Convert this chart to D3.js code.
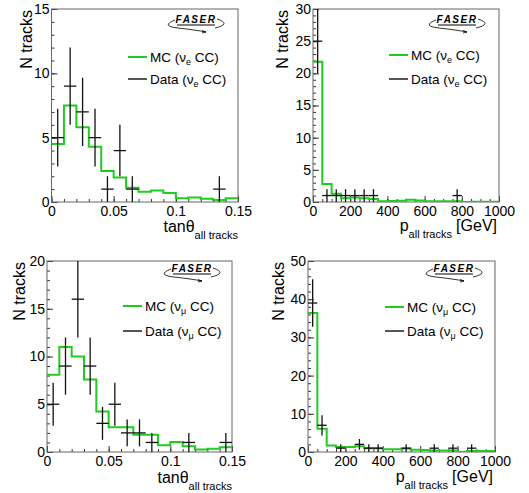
<!DOCTYPE html>
<html>
<head>
<meta charset="utf-8">
<script src="https://cdn.jsdelivr.net/npm/d3@7"></script>
<style>
  body { margin: 0; background: #fff; }
  text { font-family: "Liberation Sans", Arial, sans-serif; }
</style>
</head>
<body>
<div id="chart-area"></div>
<script>
// bin lower edges
var tanBins = [0, 0.01, 0.02, 0.03, 0.04, 0.05, 0.06, 0.07, 0.08, 0.09, 0.10, 0.11, 0.12, 0.13, 0.14];
var pBins = [0, 50, 100, 150, 200, 250, 300, 350, 400, 450, 500, 550, 600, 650, 700, 750, 800, 850, 900, 950];

// nu_e CC, tan theta
var mcTanE   = [4.5, 7.5, 5.8, 4.3, 2.4, 1.9, 1.1, 0.8, 0.9, 0.7, 0.3, 0.35, 0.25, 0.15, 0.3];
var dataTanE = [5, 9, 7, 5, 1, 4, 1, 0, 0, 0, 0, 0, 0, 1, 0];
var errTanE  = [2.24, 3, 2.65, 2.24, 1, 2, 1, 0, 0, 0, 0, 0, 0, 1, 0];

// nu_e CC, momentum
var mcPE   = [21.8, 2.8, 1.3, 0.6, 0.7, 0.6, 0.45, 0.1, 0.15, 0.2, 0.35, 0.25, 0.1, 0.1, 0.1, 0.1, 0, 0.05, 0.05, 0.05];
var dataPE = [25, 1, 1, 1, 1, 1, 1, 0, 0, 0, 0, 0, 0, 0, 0, 1, 0, 0, 0, 0];
var errPE  = [5, 1, 1, 1, 1, 1, 1, 0, 0, 0, 0, 0, 0, 0, 0, 1, 0, 0, 0, 0];

// nu_mu CC, tan theta
var mcTanMu   = [8.1, 11.0, 10.0, 7.6, 4.25, 2.6, 2.6, 1.8, 1.8, 0.7, 1.05, 0.6, 0.25, 0.35, 0.5];
var dataTanMu = [5, 9, 16, 9, 3, 5, 2, 2, 1, 0, 0, 1, 0, 0, 1];
var errTanMu  = [2.24, 3, 4, 3, 1.73, 2.24, 1.41, 1.41, 1, 0, 0, 1, 0, 0, 1];

// nu_mu CC, momentum
var mcPMu   = [36.4, 6.1, 1.7, 1.3, 1.3, 1.5, 1.0, 0.95, 0.7, 0.7, 0.9, 0.6, 0.5, 0.4, 0.4, 0.4, 0, 0.25, 0.25, 0.25];
var dataPMu = [39, 7, 0, 1, 0, 2, 1, 1, 0, 0, 1, 0, 0, 1, 0, 1, 0, 1, 0, 0];
var errPMu  = [6.24, 2.65, 0, 1, 0, 1.41, 1, 1, 0, 0, 1, 0, 0, 1, 0, 1, 0, 1, 0, 0];

var w = 529;
var h = 493;

var svg = d3.select("#chart-area").append("svg")
    .attr("width", w)
    .attr("height", h);

var panels = [
    { x0: 51.5, x1: 238, y0: 9, y1: 202, bins: tanBins, bw: 0.01, xmax: 0.15, ymax: 15,
      xt: 3, xm: 15, yt: 3, ym: 15, mc: mcTanE, data: dataTanE, err: errTanE, nu: "e", kind: "tan",
      leg: { x: 128, y1: 57, y2: 79 }, logo: { x: 196, y: 24 }, ytitle: 31.5, xbase: 232 },
    { x0: 313, x1: 499, y0: 9, y1: 202, bins: pBins, bw: 50, xmax: 1000, ymax: 30,
      xt: 5, xm: 20, yt: 6, ym: 30, mc: mcPE, data: dataPE, err: errPE, nu: "e", kind: "p",
      leg: { x: 389, y1: 55, y2: 79 }, logo: { x: 457, y: 24 }, ytitle: 288, xbase: 231 },
    { x0: 47, x1: 232, y0: 261, y1: 452, bins: tanBins, bw: 0.01, xmax: 0.15, ymax: 20,
      xt: 3, xm: 15, yt: 4, ym: 20, mc: mcTanMu, data: dataTanMu, err: errTanMu, nu: "\u03bc", kind: "tan",
      leg: { x: 123, y1: 306, y2: 331 }, logo: { x: 192, y: 273 }, ytitle: 25, xbase: 483 },
    { x0: 308, x1: 495, y0: 261, y1: 452, bins: pBins, bw: 50, xmax: 1000, ymax: 50,
      xt: 5, xm: 20, yt: 5, ym: 25, mc: mcPMu, data: dataPMu, err: errPMu, nu: "\u03bc", kind: "p",
      leg: { x: 385, y1: 307, y2: 331 }, logo: { x: 454, y: 273 }, ytitle: 284, xbase: 482 }
];

panels.forEach(function(p, pi) {
    var g = svg.append("g");

    var x = d3.scaleLinear().domain([0, p.xmax]).range([p.x0, p.x1]);
    var y = d3.scaleLinear().domain([0, p.ymax]).range([p.y1, p.y0]);

    var clipId = "clip" + pi;
    svg.append("clipPath").attr("id", clipId)
      .append("rect")
        .attr("x", p.x0).attr("y", p.y0)
        .attr("width", p.x1 - p.x0).attr("height", p.y1 - p.y0);

    var fmtX = p.kind == "tan" ? function(d) { return String(+d.toFixed(2)); } : d3.format("d");

    // minor ticks
    g.append("g")
        .attr("transform", "translate(0," + p.y1 + ")")
        .call(d3.axisBottom(x).tickValues(x.ticks(p.xm)).tickSizeInner(-3).tickSizeOuter(0).tickFormat(""))
        .call(function(s) { s.select(".domain").remove(); });
    g.append("g")
        .attr("transform", "translate(" + p.x0 + ",0)")
        .call(d3.axisLeft(y).tickValues(y.ticks(p.ym)).tickSizeInner(-3).tickSizeOuter(0).tickFormat(""))
        .call(function(s) { s.select(".domain").remove(); });

    // major ticks + labels
    var bottom = g.append("g")
        .attr("class", "bottom axis")
        .attr("transform", "translate(0," + p.y1 + ")")
        .call(d3.axisBottom(x).ticks(p.xt).tickSizeInner(-6).tickSizeOuter(0).tickPadding(4).tickFormat(fmtX));
    bottom.select(".domain").remove();
    bottom.selectAll("text").attr("font-size", "14px").attr("fill", "#000")
        .style("font-family", "'Liberation Sans', Arial, sans-serif");

    var left = g.append("g")
        .attr("class", "left axis")
        .attr("transform", "translate(" + p.x0 + ",0)")
        .call(d3.axisLeft(y).ticks(p.yt).tickSizeInner(-6).tickSizeOuter(0).tickPadding(2).tickFormat(d3.format("d")));
    left.select(".domain").remove();
    left.selectAll("text").attr("font-size", "14px").attr("fill", "#000")
        .style("font-family", "'Liberation Sans', Arial, sans-serif");

    g.selectAll(".tick line").attr("stroke", "#333");

    // frame
    g.append("rect")
        .attr("x", p.x0).attr("y", p.y0)
        .attr("width", p.x1 - p.x0).attr("height", p.y1 - p.y0)
        .attr("fill", "none").attr("stroke", "#666").attr("stroke-width", 1);

    // MC step histogram
    var pts = [];
    p.bins.forEach(function(b, i) {
        pts.push([x(b), y(p.mc[i])]);
        pts.push([x(b + p.bw), y(p.mc[i])]);
    });
    g.append("path")
        .attr("clip-path", "url(#" + clipId + ")")
        .attr("d", d3.line()(pts))
        .attr("fill", "none")
        .attr("stroke", "#1fcc1f")
        .attr("stroke-width", 2);

    // data points with error bars
    var dg = g.append("g").attr("clip-path", "url(#" + clipId + ")");
    var pd = p.bins.map(function(b, i) { return { lo: b, n: p.data[i], e: p.err[i] }; })
        .filter(function(d) { return d.n > 0; });
    dg.selectAll(".hbar").data(pd).enter().append("line")
        .attr("x1", function(d) { return x(d.lo); })
        .attr("x2", function(d) { return x(d.lo + p.bw); })
        .attr("y1", function(d) { return y(d.n); })
        .attr("y2", function(d) { return y(d.n); })
        .attr("stroke", "#111").attr("stroke-width", 1.3);
    dg.selectAll(".vbar").data(pd).enter().append("line")
        .attr("x1", function(d) { return x(d.lo + p.bw / 2); })
        .attr("x2", function(d) { return x(d.lo + p.bw / 2); })
        .attr("y1", function(d) { return y(d.n - d.e); })
        .attr("y2", function(d) { return y(d.n + d.e); })
        .attr("stroke", "#111").attr("stroke-width", 1.3);

    // y title
    g.append("text")
        .attr("transform", "translate(" + p.ytitle + "," + (p.y0 + 1) + ") rotate(-90)")
        .attr("text-anchor", "end")
        .attr("font-size", "16px")
        .text("N tracks");

    // x title
    if (p.kind == "tan") {
        var xt = g.append("text")
            .attr("x", p.x1)
            .attr("y", p.xbase)
            .attr("text-anchor", "end")
            .attr("font-size", "16px");
        xt.append("tspan").text("tan\u03b8");
        xt.append("tspan").attr("font-size", "11px").attr("dy", 7).text("all tracks");
    } else {
        g.append("text")
            .attr("x", p.x1 - 2)
            .attr("y", p.xbase)
            .attr("text-anchor", "end")
            .attr("font-size", "16px")
            .text("[GeV]");
        var pt = g.append("text")
            .attr("x", p.x1 - 47)
            .attr("y", p.xbase)
            .attr("text-anchor", "end")
            .attr("font-size", "16px");
        pt.append("tspan").text("p");
        pt.append("tspan").attr("font-size", "11px").attr("dy", 7).text("all tracks");
    }

    // legend
    var lg = g.append("g");
    lg.append("line")
        .attr("x1", p.leg.x).attr("x2", p.leg.x + 19)
        .attr("y1", p.leg.y1).attr("y2", p.leg.y1)
        .attr("stroke", "#1fcc1f").attr("stroke-width", 2);
    lg.append("line")
        .attr("x1", p.leg.x).attr("x2", p.leg.x + 19)
        .attr("y1", p.leg.y2).attr("y2", p.leg.y2)
        .attr("stroke", "#555").attr("stroke-width", 2);
    [["MC", p.leg.y1], ["Data", p.leg.y2]].forEach(function(r) {
        var t = lg.append("text")
            .attr("x", p.leg.x + 22)
            .attr("y", r[1] + 5)
            .attr("font-size", "13.5px");
        t.append("tspan").text(r[0] + " (\u03bd");
        t.append("tspan").attr("font-size", "9px").attr("dy", 3).text(p.nu);
        t.append("tspan").attr("dy", -3).text(" CC)");
    });

    // FASER logo
    var lo = g.append("g").attr("transform", "translate(" + p.logo.x + "," + p.logo.y + ")");
    lo.append("text")
        .attr("text-anchor", "middle")
        .attr("y", -1)
        .attr("font-size", "10px")
        .attr("font-weight", "bold")
        .attr("font-style", "italic")
        .attr("letter-spacing", "1.5px")
        .text("FASER");
    lo.append("line")
        .attr("x1", -19).attr("x2", 19).attr("y1", 1).attr("y2", 1)
        .attr("stroke", "#000").attr("stroke-width", 1);
    lo.append("path")
        .attr("d", "M -21 -4 Q -36 2 -18 4 Q 0 6 10 8")
        .attr("fill", "none").attr("stroke", "#000").attr("stroke-width", 0.8);
    lo.append("path")
        .attr("d", "M 6 6.5 L 10 8 L 6 9")
        .attr("fill", "none").attr("stroke", "#000").attr("stroke-width", 0.8);
    lo.append("path")
        .attr("d", "M 21 -5 Q 36 0 19 4")
        .attr("fill", "none").attr("stroke", "#000").attr("stroke-width", 0.8);
});
</script>
</body>
</html>
